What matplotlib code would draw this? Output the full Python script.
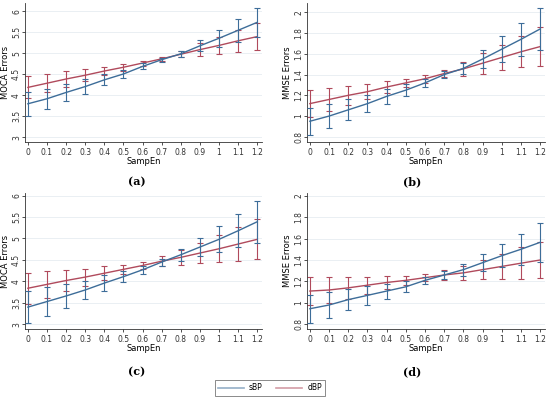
import matplotlib
matplotlib.use("Agg")
import matplotlib.pyplot as plt
import numpy as np
from matplotlib.ticker import FuncFormatter
from matplotlib.lines import Line2D

x = [0, 0.1, 0.2, 0.3, 0.4, 0.5, 0.6, 0.7, 0.8, 0.9, 1.0, 1.1, 1.2]
xticks = [0, 0.1, 0.2, 0.3, 0.4, 0.5, 0.6, 0.7, 0.8, 0.9, 1, 1.1, 1.2]

# Panel (a) MOCA
a_sbp = [3.80, 3.92, 4.07, 4.21, 4.37, 4.51, 4.69, 4.85, 4.99, 5.18, 5.36, 5.55, 5.74]
a_sbp_err = [0.28, 0.24, 0.20, 0.17, 0.13, 0.10, 0.07, 0.05, 0.07, 0.13, 0.20, 0.27, 0.34]
a_dbp = [4.19, 4.29, 4.39, 4.48, 4.58, 4.67, 4.77, 4.87, 4.98, 5.09, 5.19, 5.30, 5.40]
a_dbp_err = [0.26, 0.22, 0.18, 0.14, 0.10, 0.08, 0.06, 0.05, 0.07, 0.16, 0.20, 0.26, 0.33]

# Panel (b) MMSE
b_sbp = [0.95, 1.00, 1.06, 1.12, 1.19, 1.25, 1.32, 1.40, 1.46, 1.55, 1.645, 1.74, 1.84]
b_sbp_err = [0.13, 0.115, 0.10, 0.085, 0.07, 0.055, 0.04, 0.03, 0.05, 0.085, 0.125, 0.16, 0.20]
b_dbp = [1.12, 1.16, 1.20, 1.235, 1.28, 1.32, 1.36, 1.41, 1.455, 1.51, 1.565, 1.62, 1.67]
b_dbp_err = [0.13, 0.11, 0.09, 0.075, 0.055, 0.04, 0.04, 0.03, 0.07, 0.10, 0.12, 0.15, 0.19]

# Panel (c) MOCA
c_sbp = [3.40, 3.53, 3.66, 3.80, 3.96, 4.11, 4.27, 4.45, 4.62, 4.80, 4.98, 5.18, 5.39]
c_sbp_err = [0.38, 0.33, 0.27, 0.22, 0.18, 0.13, 0.09, 0.08, 0.14, 0.22, 0.30, 0.39, 0.49]
c_dbp = [3.84, 3.93, 4.02, 4.10, 4.19, 4.28, 4.37, 4.47, 4.56, 4.66, 4.76, 4.87, 4.98]
c_dbp_err = [0.36, 0.31, 0.25, 0.20, 0.16, 0.11, 0.09, 0.12, 0.17, 0.24, 0.31, 0.39, 0.47]

# Panel (d) MMSE
d_sbp = [0.945, 0.98, 1.03, 1.07, 1.11, 1.15, 1.21, 1.26, 1.31, 1.375, 1.44, 1.50, 1.565]
d_sbp_err = [0.13, 0.12, 0.10, 0.09, 0.07, 0.05, 0.035, 0.04, 0.055, 0.08, 0.11, 0.145, 0.18]
d_dbp = [1.11, 1.12, 1.14, 1.165, 1.19, 1.21, 1.235, 1.26, 1.28, 1.31, 1.34, 1.37, 1.40]
d_dbp_err = [0.13, 0.12, 0.10, 0.08, 0.065, 0.045, 0.035, 0.045, 0.065, 0.09, 0.12, 0.15, 0.17]

moca_ticks = [3, 3.5, 4, 4.5, 5, 5.5, 6]
mmse_ticks = [0.8, 1, 1.2, 1.4, 1.6, 1.8, 2]

BLUE = "#3d6d99"
RED = "#b04a5c"

fig = plt.figure(figsize=(5.5, 3.99), dpi=100)
W, H = 550.0, 399.0

def make_ax(l, r, t, b):
    return fig.add_axes([l / W, 1 - b / H, (r - l) / W, (b - t) / H])

panels = [
    (make_ax(25, 262, 3, 142), a_sbp, a_sbp_err, a_dbp, a_dbp_err, moca_ticks, (2.89, 6.2), "MOCA Errors", 6),
    (make_ax(307, 545, 3, 142), b_sbp, b_sbp_err, b_dbp, b_dbp_err, mmse_ticks, (0.75, 2.09), "MMSE Errors", 287),
    (make_ax(25, 262, 193, 329), c_sbp, c_sbp_err, c_dbp, c_dbp_err, moca_ticks, (2.89, 6.06), "MOCA Errors", 6),
    (make_ax(307, 545, 193, 329), d_sbp, d_sbp_err, d_dbp, d_dbp_err, mmse_ticks, (0.756, 2.025), "MMSE Errors", 287),
]

fmt = FuncFormatter(lambda v, p: "%g" % v)

for ax, s, se, d, de, yt, yl, ylab, labx in panels:
    for yv in yt:
        ax.axhline(yv, color="#e6edf1", lw=0.6, zorder=0)
    ax.errorbar(x, s, yerr=se, color=BLUE, lw=1.0, elinewidth=0.8, capsize=2, capthick=0.8, zorder=3)
    ax.errorbar(x, d, yerr=de, color=RED, lw=1.0, elinewidth=0.8, capsize=2, capthick=0.8, zorder=2)
    ax.set_xlim(-0.015, 1.225)
    ax.set_ylim(*yl)
    ax.set_xticks(xticks)
    ax.set_yticks(yt)
    ax.xaxis.set_major_formatter(fmt)
    ax.yaxis.set_major_formatter(fmt)
    ax.tick_params(axis="x", labelsize=5.5, length=2.5, width=0.6, pad=1.5, colors="#333333")
    ax.tick_params(axis="y", labelsize=5.5, length=2, width=0.6, pad=0.8, colors="#333333")
    for lab in ax.get_yticklabels():
        lab.set_rotation(90)
        lab.set_va("center")
    ax.spines["top"].set_visible(False)
    ax.spines["right"].set_visible(False)
    ax.spines["left"].set_linewidth(0.6)
    ax.spines["bottom"].set_linewidth(0.6)
    ax.spines["left"].set_color("#333333")
    ax.spines["bottom"].set_color("#333333")
    ax.set_xlabel("SampEn", fontsize=6, labelpad=0.5)
    ax.set_ylabel(ylab, fontsize=6, va="center")
    pos = ax.get_position()
    ax.yaxis.set_label_coords(labx / W, (pos.y0 + pos.y1) / 2, transform=fig.transFigure)

for label, cx, cy in [("(a)", 137, 182), ("(b)", 412, 182), ("(c)", 137, 372), ("(d)", 412, 372)]:
    fig.text(cx / W, 1 - cy / H, label, ha="center", va="center", fontsize=8,
             family="DejaVu Serif", fontweight="bold")

handles = [Line2D([], [], color=BLUE, lw=1.2, alpha=0.55), Line2D([], [], color=RED, lw=1.2, alpha=0.55)]
leg = fig.legend(handles, ["sBP", "dBP"], loc="center", bbox_to_anchor=(270 / W, 1 - 388 / H),
                 ncol=2, fontsize=5.5, frameon=True, fancybox=False, edgecolor="#555555",
                 handlelength=3.4, columnspacing=1.8, borderpad=0.4, handletextpad=0.7)
leg.get_frame().set_linewidth(0.6)

fig.savefig("out.png", dpi=100)
